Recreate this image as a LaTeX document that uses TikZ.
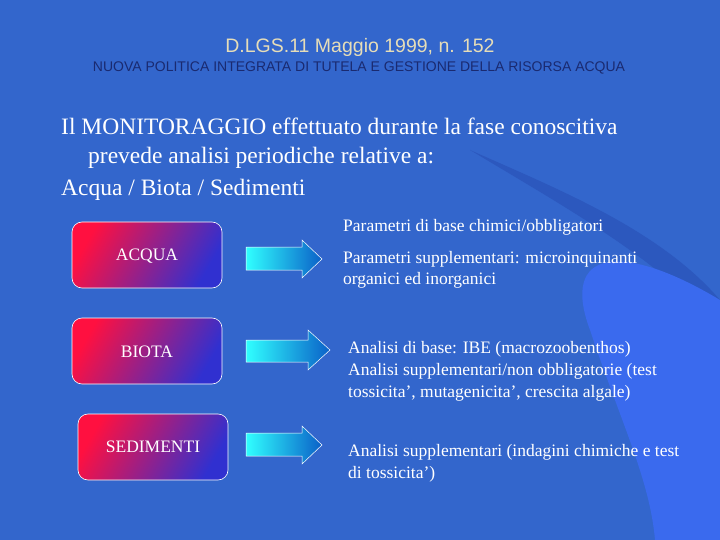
\documentclass[tikz,border=0pt]{standalone}
\usepackage{fontspec}
\setmainfont{Liberation Serif}
\newfontfamily\arialf{Liberation Sans}
\definecolor{bg}{HTML}{3366CC}
\definecolor{bgdark}{HTML}{2C58BE}
\definecolor{bglight}{HTML}{3A6AEE}
\definecolor{titlec}{HTML}{E6DDB8}
\definecolor{subc}{HTML}{1A2A70}
\definecolor{bred}{HTML}{FF1040}
\definecolor{bblue}{HTML}{3030D0}
\definecolor{acyan}{HTML}{30FFFF}
\definecolor{ablue}{HTML}{0A60C8}
\tikzset{
  catbox/.style={draw=white, line width=0.6pt, rounded corners=10pt, left color=bred, right color=bblue, shading angle=60},
  arr/.style={draw=white, line width=0.5pt, left color=acyan, right color=ablue},
  lbl/.style={text=white, font=\fontsize{17.5}{17.5}\selectfont, inner sep=0pt},
  rtxt/.style={text=white, anchor=base west, inner sep=0pt, font=\fontsize{17.5}{17.5}\selectfont},
  btxt/.style={text=white, anchor=base west, inner sep=0pt, font=\fontsize{23.5}{23.5}\selectfont}
}
\begin{document}
\begin{tikzpicture}[x=1pt,y=-1pt]
\fill[bg] (0,0) rectangle (720,540);
\useasboundingbox (0,0) rectangle (720,540);
% decorative swoosh
\fill[bgdark] (470,150) .. controls (560,190) and (660,230) .. (720,300) -- (720,330) .. controls (660,260) and (570,210) .. (470,150) -- cycle;
\fill[bglight] (720,300) .. controls (620,240) and (560,250) .. (590,330) .. controls (620,420) and (650,480) .. (655,540) -- (720,540) -- cycle;
% titles
\node[text=titlec, font=\arialf\fontsize{19.5}{19.5}\selectfont, anchor=base] (t1) at (360,53) {D.LGS.11 Maggio 1999, n. 152};
\node[text=subc, font=\arialf\fontsize{14}{14}\selectfont, anchor=base] (t2) at (359,72) {NUOVA POLITICA INTEGRATA DI TUTELA E GESTIONE DELLA RISORSA ACQUA};
% body
\node[btxt] (b1) at (61,135) {Il MONITORAGGIO effettuato durante la fase conoscitiva};
\node[btxt] (b2) at (88,164) {prevede analisi periodiche relative a:};
\node[btxt] (b3) at (61,196) {Acqua / Biota / Sedimenti};
% boxes
\path[catbox] (72,222) rectangle (222,288);
\node[lbl] (acqua) at (147,256) {ACQUA};
\path[catbox] (72,318) rectangle (222,384);
\node[lbl] (biota) at (147,352) {BIOTA};
\path[catbox] (78,414) rectangle (228,480);
\node[lbl] (sed) at (153,447) {SEDIMENTI};
% arrows
\path[arr] (246,247) -- (302,247) -- (302,240) -- (322,259) -- (302,278) -- (302,270) -- (246,270) -- cycle;
\path[arr] (246,340) -- (308,340) -- (308,330) -- (330,350) -- (308,370) -- (308,362) -- (246,362) -- cycle;
\path[arr] (246,433) -- (302,433) -- (302,426) -- (322,445) -- (302,464) -- (302,456) -- (246,456) -- cycle;
% right texts
\node[rtxt] (r1) at (343,232) {Parametri di base chimici/obbligatori};
\node[rtxt] (r2) at (343,263) {Parametri supplementari: microinquinanti};
\node[rtxt] (r3) at (343,284) {organici ed inorganici};
\node[rtxt] (r4) at (348,353) {Analisi di base: IBE (macrozoobenthos)};
\node[rtxt] (r5) at (348,375) {Analisi supplementari/non obbligatorie (test};
\node[rtxt] (r6) at (348,397) {tossicita’, mutagenicita’, crescita algale)};
\node[rtxt] (r7) at (348,456) {Analisi supplementari (indagini chimiche e test};
\node[rtxt] (r8) at (348,478) {di tossicita’)};
\end{tikzpicture}
\end{document}
